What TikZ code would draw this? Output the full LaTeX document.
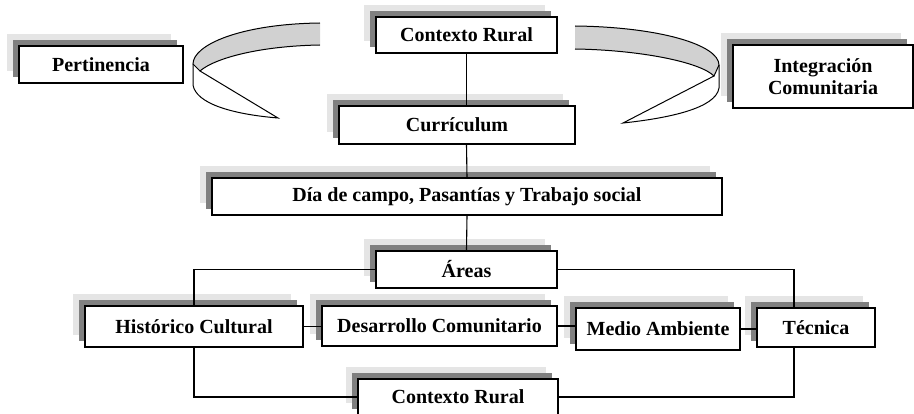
\documentclass[tikz,border=0pt]{standalone}
\usepackage{fontspec}
\setmainfont{Liberation Serif}
\usetikzlibrary{shadows}

\begin{document}
\begin{tikzpicture}[x=1pt,y=-1pt,line width=1.1pt,
	caja/.style={draw=black,fill=white,inner sep=2pt,align=center,
		font=\bfseries\fontsize{20}{22}\selectfont,
		general shadow={fill=black!10,shadow xshift=-12pt,shadow yshift=12pt},
		general shadow={fill=black!50,shadow xshift=-6pt,shadow yshift=6pt}},
	cinta/.style={draw=black,line width=1pt}]
\useasboundingbox (0,0) rectangle (914,414);

% cintas
\filldraw[cinta,fill=black!18] (320,23) .. controls (240,24) and (193,45) .. (193,64) -- (200,71) .. controls (215,58) and (260,46) .. (320,45);
\draw[cinta] (193,64) -- (193,85) .. controls (196,103) and (230,114) .. (278,118) -- (200,71);
\filldraw[cinta,fill=black!18] (575,26) .. controls (660,27) and (719,45) .. (719,65) -- (714,76) .. controls (700,62) and (640,50) .. (575,49);
\draw[cinta] (719,65) -- (719,88) .. controls (716,108) and (670,118) .. (623,123) -- (714,76);

% cajas
\node[caja,minimum width=181pt,minimum height=36pt] (ctx) at (466.5,35) {Contexto Rural};
\node[caja,minimum width=164pt,minimum height=37pt] (pert) at (101,64.5) {Pertinencia};
\node[caja,minimum width=180pt,minimum height=63pt] (integ) at (823,76.5) {Integración\\Comunitaria};
\node[caja,minimum width=236pt,minimum height=38pt] (curr) at (457,125) {Currículum};
\node[caja,minimum width=510pt,minimum height=37pt] (dia) at (467,196.5) {Día de campo, Pasantías y Trabajo social};
\node[caja,minimum width=181pt,minimum height=37pt] (areas) at (466.5,269.5) {Áreas};
\node[caja,minimum width=218pt,minimum height=41pt] (hist) at (194,326.5) {Histórico Cultural};
\node[caja,minimum width=235pt,minimum height=40pt] (desa) at (439.5,326) {Desarrollo Comunitario};
\node[caja,minimum width=164pt,minimum height=42pt] (medio) at (658,329) {Medio Ambiente};
\node[caja,minimum width=118pt,minimum height=39pt] (tecn) at (816,327.5) {Técnica};
\node[caja,minimum width=200pt,minimum height=36pt] (ctx2) at (458,397) {Contexto Rural};

% conectores
\coordinate (tn) at ([xshift=-22pt]tecn.north);
\coordinate (ts) at ([xshift=-22pt]tecn.south);
\draw (ctx.south) -- (ctx.south |- curr.north);
\draw (ctx.south |- curr.south) -- (dia.north);
\draw (dia.south) -- (areas.north);
\draw (areas.west) -| (hist.north);
\draw (areas.east) -| (tn);
\draw (hist.east) -- (hist.east -| desa.west);
\draw (desa.east) -- (desa.east -| medio.west);
\draw (medio.east) -- (medio.east -| tecn.west);
\draw (hist.south) |- (ctx2.west);
\draw (ctx2.east) -| (ts);

\end{tikzpicture}
\end{document}
